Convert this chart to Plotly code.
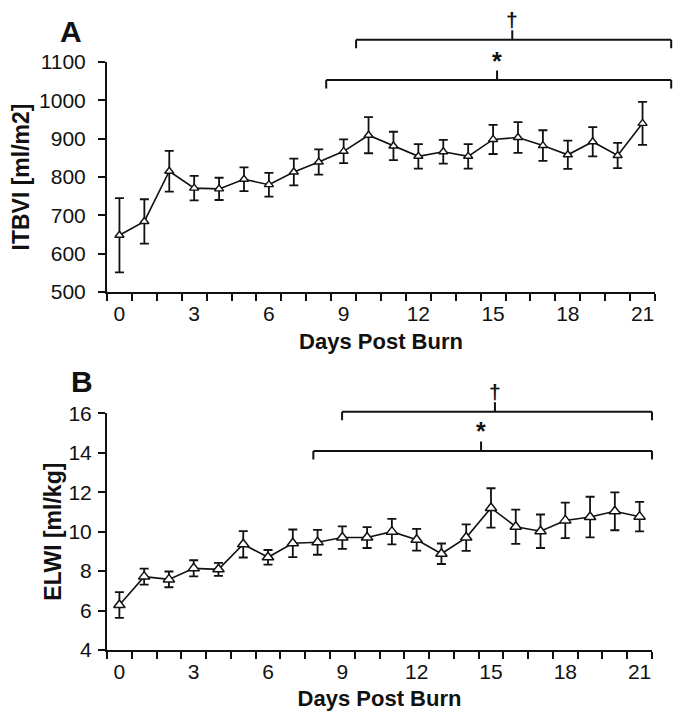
import plotly.graph_objects as go

# ---------------- data ----------------
days = list(range(22))
x_tick_vals = [0, 3, 6, 9, 12, 15, 18, 21]
x_tick_text = ["0", "3", "6", "9", "12", "15", "18", "21"]

itbvi_mean = [648, 684, 815, 771, 769, 794, 780, 813, 839, 867, 909, 881, 854, 866,
              854, 898, 903, 882, 858, 892, 856, 940]
itbvi_sem = [97, 58, 53, 32, 29, 31, 31, 35, 33, 31, 47, 37, 32, 31,
             32, 38, 40, 40, 37, 38, 33, 56]

elwi_mean = [6.28, 7.72, 7.58, 8.14, 8.09, 9.36, 8.70, 9.41, 9.46, 9.70, 9.70, 10.0,
             9.59, 8.88, 9.70, 11.2, 10.25, 10.02, 10.57, 10.74, 11.03, 10.76]
elwi_sem = [0.65, 0.41, 0.40, 0.41, 0.33, 0.67, 0.37, 0.70, 0.63, 0.57, 0.53, 0.65,
            0.55, 0.52, 0.67, 1.00, 0.87, 0.85, 0.90, 1.03, 0.96, 0.75]

itbvi_ticks = [500, 600, 700, 800, 900, 1000, 1100]
elwi_ticks = [4, 6, 8, 10, 12, 14, 16]

# significance brackets: (symbol, x_start, x_end, x_mid, y_level) in data units
brackets_A = [("†", 9.5, 22.15, 15.77, 1158), ("*", 8.3, 22.15, 15.16, 1053)]
brackets_B = [("†", 8.99, 21.5, 15.16, 16.08), ("*", 7.83, 21.5, 14.6, 14.09)]

# ---------------- layout geometry ----------------
# page body has an 8px default margin, so the figure starts at (8, 8)
OFF = 8
W, H = 685 - OFF, 719 - OFF
ML, MR, MT, MB = 107 - OFF, 30, 62 - OFF, 69
PW, PH = W - ML - MR, H - MT - MB
XR = [-0.5, 21.5]
YR_A = [500, 1100]
YR_B = [4, 16]
BOT = 650  # absolute page y of plot bottom
domA_y = [(BOT - 292) / PH, 1.0]
domB_y = [0.0, (BOT - 413.3) / PH]
domA_x = [0.0, 1.0]
domB_x = [0.0, 545 / PW]
plotA_h = (domA_y[1] - domA_y[0]) * PH
plotB_h = (domB_y[1] - domB_y[0]) * PH

FONT = "Liberation Sans, Arial, Helvetica, sans-serif"
BLACK = "#111111"

fig = go.Figure()

fig.add_trace(go.Scatter(
    x=days, y=itbvi_mean, xaxis="x", yaxis="y", mode="lines+markers",
    line=dict(color=BLACK, width=1.6),
    marker=dict(symbol="triangle-up", size=8, color="white", line=dict(color=BLACK, width=1.4)),
    error_y=dict(type="data", array=itbvi_sem, visible=True, color=BLACK, thickness=1.8, width=4.5),
    showlegend=False, cliponaxis=False))

fig.add_trace(go.Scatter(
    x=days, y=elwi_mean, xaxis="x2", yaxis="y2", mode="lines+markers",
    line=dict(color=BLACK, width=1.6),
    marker=dict(symbol="triangle-up", size=10, color="white", line=dict(color=BLACK, width=1.5)),
    error_y=dict(type="data", array=elwi_sem, visible=True, color=BLACK, thickness=1.8, width=4.5),
    showlegend=False, cliponaxis=False))

tickfont = dict(family=FONT, size=21, color=BLACK)
titlefont = dict(family=FONT, size=22, color=BLACK)

def xaxis_cfg(domain, anchor, standoff):
    return dict(
        domain=domain, anchor=anchor, range=XR, showgrid=False, zeroline=False,
        showline=True, linecolor=BLACK, linewidth=2,
        tickmode="array", tickvals=x_tick_vals, ticktext=x_tick_text,
        ticks="", tickfont=tickfont, ticklabelstandoff=2,
        minor=dict(tickmode="array", tickvals=[d - 0.5 for d in days] + [days[-1] + 0.5],
                   ticks="outside", ticklen=7, tickwidth=1.8, tickcolor=BLACK, showgrid=False),
        title=dict(text="<b>Days Post Burn</b>", font=titlefont, standoff=standoff),
    )

def yaxis_cfg(domain, anchor, rng, ticks, title, lab_standoff, title_standoff):
    return dict(
        domain=domain, anchor=anchor, range=rng, showgrid=False, zeroline=False,
        showline=True, linecolor=BLACK, linewidth=2,
        tickmode="array", tickvals=ticks, ticks="outside", ticklen=7, tickwidth=1.8,
        tickcolor=BLACK, tickfont=tickfont, ticklabelstandoff=lab_standoff,
        title=dict(text="<b>" + title + "</b>", font=dict(family=FONT, size=23, color=BLACK),
                   standoff=title_standoff),
    )

shapes = []
annotations = []

def xd(v):
    return (v - XR[0]) / (XR[1] - XR[0])

def add_brackets(brs, xref, yref, yr, plot_h):
    for sym, x0, x1, xm, yv in brs:
        y = (yv - yr[0]) / (yr[1] - yr[0])
        down = 8.5 / plot_h
        up = 9.5 / plot_h
        ln = dict(color=BLACK, width=2)
        shapes.append(dict(type="line", xref=xref, yref=yref, x0=xd(x0), x1=xd(x1), y0=y, y1=y, line=ln))
        shapes.append(dict(type="line", xref=xref, yref=yref, x0=xd(x0), x1=xd(x0), y0=y, y1=y - down, line=ln))
        shapes.append(dict(type="line", xref=xref, yref=yref, x0=xd(x1), x1=xd(x1), y0=y, y1=y - down, line=ln))
        shapes.append(dict(type="line", xref=xref, yref=yref, x0=xd(xm), x1=xd(xm), y0=y, y1=y + up, line=ln))
        if sym == "*":
            annotations.append(dict(text="<b>*</b>", xref=xref, yref=yref, x=xd(xm), y=y + up,
                                    xanchor="center", yanchor="bottom", showarrow=False, yshift=-6,
                                    font=dict(family=FONT, size=25, color=BLACK)))
        else:
            annotations.append(dict(text="<b>†</b>", xref=xref, yref=yref, x=xd(xm), y=y + up,
                                    xanchor="center", yanchor="bottom", showarrow=False, yshift=-3,
                                    font=dict(family=FONT, size=21, color=BLACK)))

add_brackets(brackets_A, "x domain", "y domain", YR_A, plotA_h)
add_brackets(brackets_B, "x2 domain", "y2 domain", YR_B, plotB_h)

annotations.append(dict(text="<b>A</b>", xref="paper", yref="paper", x=(71 - 107) / PW,
                        y=(BOT - 31) / PH, xanchor="center", yanchor="middle", showarrow=False,
                        font=dict(family=FONT, size=30, color=BLACK)))
annotations.append(dict(text="<b>B</b>", xref="paper", yref="paper", x=(81.5 - 107) / PW,
                        y=(BOT - 381) / PH, xanchor="center", yanchor="middle", showarrow=False,
                        font=dict(family=FONT, size=30, color=BLACK)))

fig.update_layout(
    width=W, height=H,
    margin=dict(l=ML, r=MR, t=MT, b=MB, autoexpand=False),
    paper_bgcolor="white", plot_bgcolor="white",
    font=dict(family=FONT, color=BLACK),
    xaxis=xaxis_cfg(domA_x, "y", 9),
    yaxis=yaxis_cfg(domA_y, "x", YR_A, itbvi_ticks, "ITBVI [ml/m2]", 8, 6),
    xaxis2=xaxis_cfg(domB_x, "y2", 8),
    yaxis2=yaxis_cfg(domB_y, "x2", YR_B, elwi_ticks, "ELWI [ml/kg]", 2, 0),
    shapes=shapes, annotations=annotations,
)

fig.write_html("out.html")
